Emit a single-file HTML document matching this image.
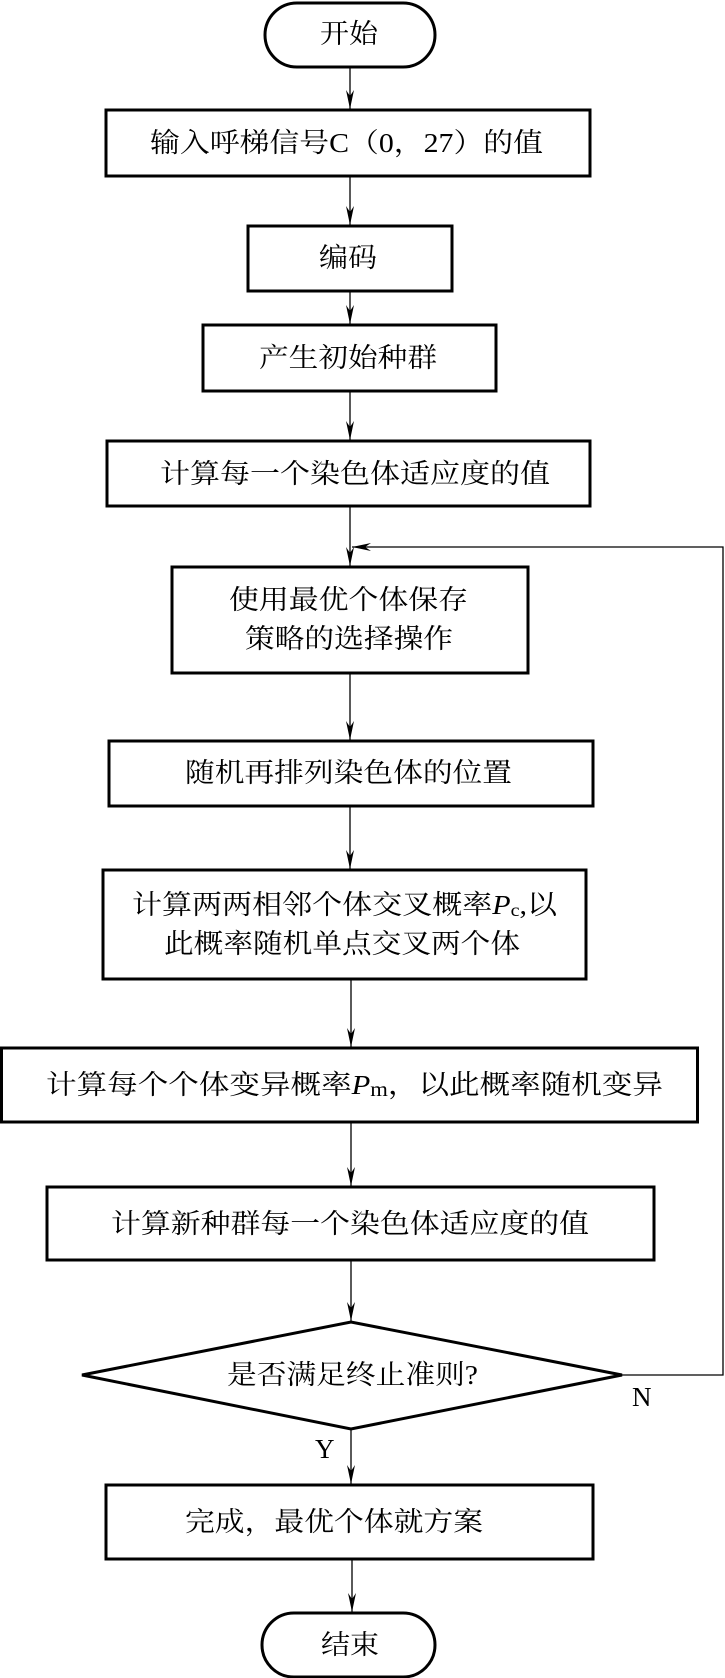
<!DOCTYPE html>
<html><head><meta charset="utf-8"><style>
html,body{margin:0;padding:0;background:#fff;}
svg{display:block;}
text{font-family:"Liberation Serif","Noto Serif CJK SC",serif;font-size:27px;fill:#000;}
</style></head><body>
<svg width="725" height="1678" viewBox="0 0 725 1678" xmlns="http://www.w3.org/2000/svg">
<defs>
<marker id="a" markerWidth="10" markerHeight="22" refX="5" refY="20" orient="auto" markerUnits="userSpaceOnUse"></marker>
</defs>
<g fill="none" stroke="#000" stroke-width="3">
<rect x="265" y="3" width="170" height="64" rx="32" ry="32"/>
<rect x="106" y="110" width="484" height="66"/>
<rect x="248" y="226" width="204" height="65"/>
<rect x="203" y="325" width="293" height="66"/>
<rect x="107" y="441" width="483" height="65"/>
<rect x="172" y="567" width="356" height="106"/>
<rect x="109" y="741" width="484" height="65"/>
<rect x="103" y="870" width="483" height="109"/>
<rect x="1.5" y="1048" width="696" height="74"/>
<rect x="47" y="1187" width="607" height="73"/>
<polygon points="82,1375 351,1322 622,1375 351,1429"/>
<rect x="106" y="1485" width="487" height="74"/>
<rect x="262" y="1613" width="173" height="64" rx="32" ry="32"/>
</g>
<g stroke="#000" stroke-width="1.3" fill="none">
<line x1="350" y1="68" x2="350" y2="109"/>
<line x1="350" y1="176" x2="350" y2="225"/>
<line x1="350" y1="291" x2="350" y2="324"/>
<line x1="350" y1="391" x2="350" y2="440"/>
<line x1="350" y1="506" x2="350" y2="566"/>
<line x1="350" y1="673" x2="350" y2="740"/>
<line x1="350" y1="806" x2="350" y2="869"/>
<line x1="351" y1="979" x2="351" y2="1047"/>
<line x1="351" y1="1122" x2="351" y2="1186"/>
<line x1="351" y1="1260" x2="351" y2="1321"/>
<line x1="351" y1="1429" x2="351" y2="1484"/>
<line x1="352" y1="1559" x2="352" y2="1612"/>
<polyline points="622,1375 723,1375 723,547 352,547"/>
</g>
<g fill="#000">
<polygon points="350,109 346,90 350,96 354,90"/>
<polygon points="350,225 346,206 350,212 354,206"/>
<polygon points="350,324 346,305 350,311 354,305"/>
<polygon points="350,440 346,421 350,427 354,421"/>
<polygon points="350,566 346,547 350,553 354,547"/>
<polygon points="350,740 346,721 350,727 354,721"/>
<polygon points="350,869 346,850 350,856 354,850"/>
<polygon points="351,1047 347,1028 351,1034 355,1028"/>
<polygon points="351,1186 347,1167 351,1173 355,1167"/>
<polygon points="351,1321 347,1302 351,1308 355,1302"/>
<polygon points="351,1484 347,1465 351,1471 355,1465"/>
<polygon points="352,1612 348,1593 352,1599 356,1593"/>
<polygon points="352,547 371,543 365,547 371,551"/>
</g>
<g text-anchor="start" dominant-baseline="central">
<text x="320" y="34" textLength="58" lengthAdjust="spacingAndGlyphs">开始</text>
<text x="150" y="143" textLength="393" lengthAdjust="spacingAndGlyphs">输入呼梯信号C（0，27）的值</text>
<text x="319" y="258" textLength="58" lengthAdjust="spacingAndGlyphs">编码</text>
<text x="259" y="358" textLength="178" lengthAdjust="spacingAndGlyphs">产生初始种群</text>
<text x="160" y="474" textLength="390" lengthAdjust="spacingAndGlyphs">计算每一个染色体适应度的值</text>
<text x="229" y="600" textLength="239" lengthAdjust="spacingAndGlyphs">使用最优个体保存</text>
<text x="245" y="639" textLength="208" lengthAdjust="spacingAndGlyphs">策略的选择操作</text>
<text x="185" y="773" textLength="327" lengthAdjust="spacingAndGlyphs">随机再排列染色体的位置</text>
<text x="132" y="905" textLength="425" lengthAdjust="spacingAndGlyphs">计算两两相邻个体交叉概率<tspan font-style="italic">P</tspan><tspan font-size="18" dy="5">c</tspan><tspan dy="-5">,以</tspan></text>
<text x="164" y="944" textLength="356" lengthAdjust="spacingAndGlyphs">此概率随机单点交叉两个体</text>
<text x="46" y="1085" textLength="617" lengthAdjust="spacingAndGlyphs">计算每个个体变异概率<tspan font-style="italic">P</tspan><tspan font-size="20" dy="5">m</tspan><tspan dy="-5">，以此概率随机变异</tspan></text>
<text x="111" y="1224" textLength="478" lengthAdjust="spacingAndGlyphs">计算新种群每一个染色体适应度的值</text>
<text x="227" y="1375" textLength="251" lengthAdjust="spacingAndGlyphs">是否满足终止准则?</text>
<text x="185" y="1522" textLength="298" lengthAdjust="spacingAndGlyphs">完成，最优个体就方案</text>
<text x="321" y="1645" textLength="58" lengthAdjust="spacingAndGlyphs">结束</text>
<text x="632" y="1397" font-size="24">N</text>
<text x="315" y="1449" font-size="24">Y</text>
</g>
</svg>
</body></html>
